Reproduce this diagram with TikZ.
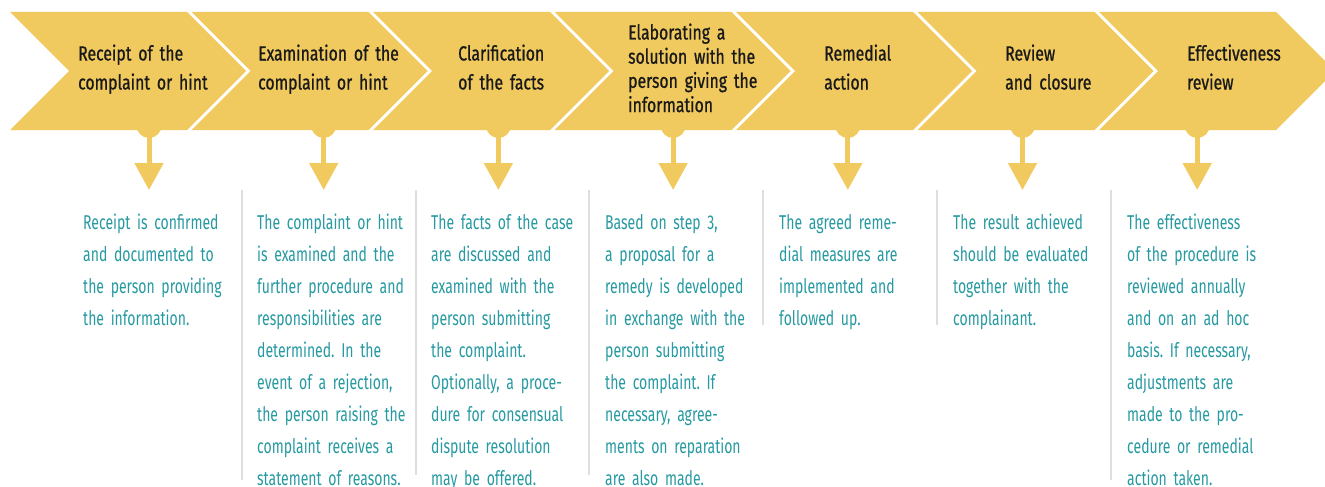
\documentclass[tikz,border=0pt]{standalone}
\usepackage{fontspec}
\frenchspacing
\newfontfamily\headfont[FakeStretch=0.77,FakeBold=0.8]{Fira Sans}
\newfontfamily\bodyfont[FakeStretch=0.70]{Fira Sans}
\usetikzlibrary{arrows.meta}
\definecolor{stepyellow}{RGB}{240,202,94}
\definecolor{noteteal}{RGB}{38,153,161}
\definecolor{rulegray}{RGB}{222,222,222}

\begin{document}
\begin{tikzpicture}[x=1pt,y=-1pt,
        chevron/.style={fill=stepyellow},
        pointer/.style={draw=stepyellow,line width=5pt,-{Triangle[width=28pt,length=27pt]}},
        divider/.style={draw=rulegray,line width=1.6pt},
        steptitle/.style={anchor=base west,inner sep=0pt,text width=170pt,align=left,
            text=black!90,font=\headfont\fontsize{20.5}{29}\selectfont},
        steplong/.style={steptitle,font=\headfont\fontsize{20.5}{24.2}\selectfont},
        note/.style={anchor=base west,inner sep=0pt,text width=170pt,align=left,
            text=noteteal,font=\bodyfont\fontsize{20}{32}\selectfont}]

        \useasboundingbox (0,0) rectangle (1325,487);

        % the row of chevrons
        \foreach \i in {0,...,6} {
                \pgfmathsetmacro\lx{10+181.5*\i}
                \fill[chevron] (\lx,12) -- ++(177,0) -- ++(59,59) -- ++(-59,59)
                        -- ++(-177,0) -- ++(59,-59) -- cycle;
        }

        % knob and arrow under each step
        \foreach \i in {1,...,7} {
                \pgfmathsetmacro\ax{149+174.7*(\i-1)}
                \fill[chevron] (\ax,125.5) circle[radius=12.5];
                \coordinate (pin\i) at (\ax,125);
                \coordinate (tip\i) at (\ax,190);
                \draw[pointer] (pin\i) -- (tip\i);
        }

        % thin rules between the columns
        \foreach \x/\yend in {242/480, 416/475, 589/475, 763/325, 937/325, 1111/480}
                \draw[divider] (\x,190) -- (\x,\yend);

        % step titles
        \node[steptitle] (h1) at (78,60.5) {Receipt of the\\complaint or hint};
        \node[steptitle] (h2) at (258,60.5) {Examination of the\\complaint or hint};
        \node[steptitle] (h3) at (458,60.5) {Clarification\\of the facts};
        \node[steplong] (h4) at (628,39.5) {Elaborating a\\solution with the\\person giving the\\information};
        \node[steptitle] (h5) at (824,60.5) {Remedial\\action};
        \node[steptitle] (h6) at (1005,60.5) {Review\\and closure};
        \node[steptitle] (h7) at (1187,60.5) {Effectiveness\\review};

        % what happens in each step
        \node[note] (t1) at (83,229) {Receipt is confirmed\\and documented to\\the person providing\\the information.};
        \node[note] (t2) at (257,229) {The complaint or hint\\is examined and the\\further procedure and\\responsibilities are\\determined. In the\\event of a rejection,\\the person raising the\\complaint receives a\\statement of reasons.};
        \node[note] (t3) at (431,229) {The facts of the case\\are discussed and\\examined with the\\person submitting\\the complaint.\\Optionally, a proce-\\dure for consensual\\dispute resolution\\may be offered.};
        \node[note] (t4) at (605,229) {Based on step 3,\\a proposal for a\\remedy is developed\\in exchange with the\\person submitting\\the complaint. If\\necessary, agree-\\ments on reparation\\are also made.};
        \node[note] (t5) at (779,229) {The agreed reme-\\dial measures are\\implemented and\\followed up.};
        \node[note] (t6) at (953,229) {The result achieved\\should be evaluated\\together with the\\complainant.};
        \node[note] (t7) at (1127,229) {The effectiveness\\of the procedure is\\reviewed annually\\and on an ad hoc\\basis. If necessary,\\adjustments are\\made to the pro-\\cedure or remedial\\action taken.};

\end{tikzpicture}
\end{document}
